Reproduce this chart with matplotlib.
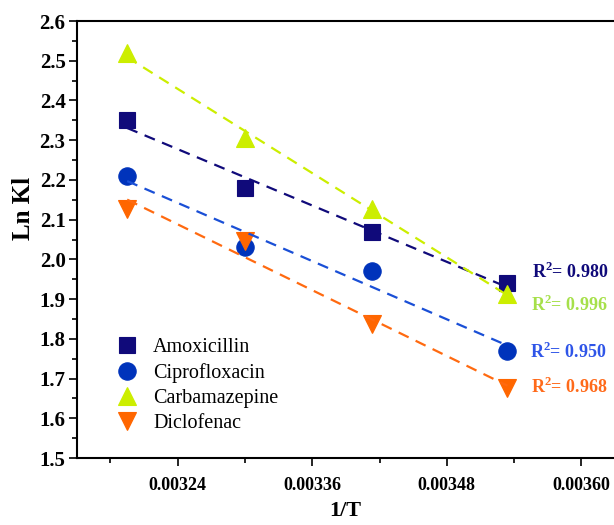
import numpy as np
import matplotlib.pyplot as plt
from matplotlib.ticker import MultipleLocator

plt.rcParams['font.family'] = ['Liberation Serif', 'DejaVu Serif']
plt.rcParams['mathtext.fontset'] = 'custom'
plt.rcParams['mathtext.rm'] = 'Liberation Serif:bold'
plt.rcParams['mathtext.bf'] = 'Liberation Serif:bold'

# 1/T for 313, 303, 293, 283 K
inv_t = [0.003195, 0.003300, 0.003413, 0.003534]

amoxicillin = [2.35, 2.18, 2.07, 1.94]
ciprofloxacin = [2.21, 2.03, 1.97, 1.77]
carbamazepine = [2.52, 2.305, 2.127, 1.913]
diclofenac = [2.126, 2.047, 1.837, 1.677]

names = ['Amoxicillin', 'Ciprofloxacin', 'Carbamazepine', 'Diclofenac']
r2_labels = ['0.980', '0.950', '0.996', '0.968']

series = [amoxicillin, ciprofloxacin, carbamazepine, diclofenac]
markers = ['s', 'o', '^', 'v']
msizes = [11, 12.5, 13, 13]
mcolors = ['#100a7a', '#0033bb', '#ccee00', '#ff6600']
lcolors = ['#100a7a', '#1a4fd6', '#ccee00', '#ff6a10']
tcolors = ['#100a7a', '#2f55e8', '#a6e04a', '#ff6a1a']
# R^2 label anchors (data units, baseline)
r2_pos = [(0.003556, 1.952), (0.003554, 1.752), (0.003555, 1.870), (0.003555, 1.664)]

fig = plt.figure(figsize=(6.14, 5.25), dpi=100)
ax = fig.add_axes([0.1249, 0.1276, 0.8751, 0.8324])

x = np.array(inv_t)
for ys, m, ms, mc, lc, name in zip(series, markers, msizes, mcolors, lcolors, names):
    ax.plot(x, ys, linestyle='none', marker=m, markersize=ms, color=mc,
            markeredgecolor=mc, markeredgewidth=0.8, label=name, zorder=3)
    k, b = np.polyfit(x, ys, 1)
    ax.plot(x[[0, -1]], k * x[[0, -1]] + b, color=lc, lw=1.6,
            dashes=(5, 3.5), zorder=4)

for (tx, ty), r2, tc in zip(r2_pos, r2_labels, tcolors):
    ax.text(tx, ty, 'R$^{\\mathbf{2}}$= ' + r2, color=tc, fontsize=13,
            fontweight='bold', va='baseline', ha='left')

ax.set_xlim(0.00315, 0.003629)
ax.set_ylim(1.5, 2.6)
ax.xaxis.set_minor_locator(MultipleLocator(0.00006))
ax.yaxis.set_minor_locator(MultipleLocator(0.05))
ax.set_xticks([0.00324, 0.00336, 0.00348, 0.00360])
ax.set_xticklabels(['0.00324', '0.00336', '0.00348', '0.00360'])
ax.set_yticks(np.arange(1.5, 2.61, 0.1))
ax.set_yticklabels(['%.1f' % v for v in np.arange(1.5, 2.61, 0.1)])

ax.spines['right'].set_visible(False)
for s in ['left', 'bottom', 'top']:
    ax.spines[s].set_linewidth(1.5)
ax.tick_params(which='major', direction='out', length=6, width=1.2)
ax.tick_params(which='minor', direction='out', length=3.5, width=1.2)
ax.tick_params(axis='x', labelsize=13, pad=8)
ax.tick_params(axis='y', labelsize=15, pad=2)
ax.tick_params(top=False, right=False, which='both')
for lab in ax.get_xticklabels() + ax.get_yticklabels():
    lab.set_fontweight('bold')

ax.set_xlabel('1/T', fontsize=16, fontweight='bold', labelpad=5)
ax.set_ylabel('Ln Kl', fontsize=18, fontweight='bold')
ax.yaxis.set_label_coords(-0.078, 0.572)

ax.legend(loc='upper left', bbox_to_anchor=(0.0713, 0.2746), frameon=False,
          fontsize=14.5, handletextpad=0.69, labelspacing=0.3, borderaxespad=0,
          borderpad=0, handlelength=1.2)

fig.savefig('out.png', dpi=100)
